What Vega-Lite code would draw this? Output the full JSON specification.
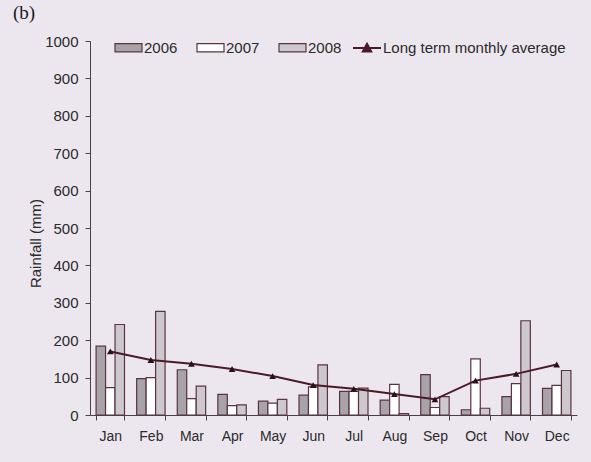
{
  "$schema": "https://vega.github.io/schema/vega-lite/v6.json",
  "width": 487,
  "height": 374,
  "autosize": {"type": "none"},
  "padding": {"left": 90, "top": 41, "right": 14, "bottom": 47},
  "background": "#ece7ee",
  "title": {
    "text": "(b)",
    "anchor": "start",
    "frame": "group",
    "font": "Liberation Serif",
    "fontSize": 19,
    "fontWeight": "normal",
    "color": "#1a1a1a",
    "baseline": "alphabetic",
    "dx": -77,
    "dy": 22,
    "offset": 17
  },
  "config": {
    "view": {"stroke": null},
    "font": "Liberation Sans",
    "axis": {
      "grid": false,
      "domainColor": "#4a4048",
      "tickColor": "#4a4048",
      "labelColor": "#2a2a2a",
      "titleColor": "#2a2a2a",
      "labelFont": "Liberation Sans",
      "titleFont": "Liberation Sans"
    },
    "axisY": {
      "values": [0,100,200,300,400,500,600,700,800,900,1000],
      "format": "d",
      "labelOverlap": false,
      "tickSize": 5,
      "labelFontSize": 15,
      "labelPadding": 7,
      "titleFontSize": 15,
      "titleFontWeight": "normal",
      "titlePadding": 1,
      "titleY": 202
    },
    "legend": {"labelFont": "Liberation Sans"}
  },
  "datasets": {
    "rain": [
      {"month": "Jan", "year": "2006", "rain": 184},
      {"month": "Jan", "year": "2007", "rain": 73},
      {"month": "Jan", "year": "2008", "rain": 242},
      {"month": "Feb", "year": "2006", "rain": 97},
      {"month": "Feb", "year": "2007", "rain": 100},
      {"month": "Feb", "year": "2008", "rain": 277},
      {"month": "Mar", "year": "2006", "rain": 121},
      {"month": "Mar", "year": "2007", "rain": 44},
      {"month": "Mar", "year": "2008", "rain": 77},
      {"month": "Apr", "year": "2006", "rain": 55},
      {"month": "Apr", "year": "2007", "rain": 25},
      {"month": "Apr", "year": "2008", "rain": 27},
      {"month": "May", "year": "2006", "rain": 37},
      {"month": "May", "year": "2007", "rain": 32},
      {"month": "May", "year": "2008", "rain": 42},
      {"month": "Jun", "year": "2006", "rain": 53},
      {"month": "Jun", "year": "2007", "rain": 75},
      {"month": "Jun", "year": "2008", "rain": 134},
      {"month": "Jul", "year": "2006", "rain": 63},
      {"month": "Jul", "year": "2007", "rain": 63},
      {"month": "Jul", "year": "2008", "rain": 72},
      {"month": "Aug", "year": "2006", "rain": 40},
      {"month": "Aug", "year": "2007", "rain": 82},
      {"month": "Aug", "year": "2008", "rain": 4},
      {"month": "Sep", "year": "2006", "rain": 108},
      {"month": "Sep", "year": "2007", "rain": 20},
      {"month": "Sep", "year": "2008", "rain": 49},
      {"month": "Oct", "year": "2006", "rain": 14},
      {"month": "Oct", "year": "2007", "rain": 150},
      {"month": "Oct", "year": "2008", "rain": 18},
      {"month": "Nov", "year": "2006", "rain": 49},
      {"month": "Nov", "year": "2007", "rain": 84},
      {"month": "Nov", "year": "2008", "rain": 252},
      {"month": "Dec", "year": "2006", "rain": 71},
      {"month": "Dec", "year": "2007", "rain": 79},
      {"month": "Dec", "year": "2008", "rain": 119}
    ],
    "avg": [
      {"month": "Jan", "avg": 170},
      {"month": "Feb", "avg": 147},
      {"month": "Mar", "avg": 137},
      {"month": "Apr", "avg": 123},
      {"month": "May", "avg": 104},
      {"month": "Jun", "avg": 80},
      {"month": "Jul", "avg": 70},
      {"month": "Aug", "avg": 56},
      {"month": "Sep", "avg": 42},
      {"month": "Oct", "avg": 92},
      {"month": "Nov", "avg": 110},
      {"month": "Dec", "avg": 135}
    ]
  },
  "encoding": {
    "x": {
      "field": "month",
      "type": "nominal",
      "sort": ["Jan","Feb","Mar","Apr","May","Jun","Jul","Aug","Sep","Oct","Nov","Dec"],
      "scale": {"paddingInner": 0.3, "paddingOuter": 0.15},
      "axis": {
        "title": null,
        "labelAngle": 0,
        "tickBand": "extent",
        "tickSize": 5,
        "labelFontSize": 14,
        "labelPadding": 9
      }
    }
  },
  "layer": [
    {
      "data": {"name": "rain"},
      "mark": {"type": "bar", "stroke": "#5a3440", "strokeWidth": 1.2},
      "encoding": {
        "xOffset": {"field": "year", "type": "nominal"},
        "y": {
          "field": "rain",
          "type": "quantitative",
          "scale": {"domain": [0, 1000]},
          "title": "Rainfall (mm)"
        },
        "fill": {
          "field": "year",
          "type": "nominal",
          "scale": {"domain": ["2006","2007","2008"], "range": ["#a7a3a9", "#ffffff", "#cdc8cd"]},
          "legend": {
            "orient": "none",
            "legendX": 24,
            "legendY": -8,
            "direction": "horizontal",
            "title": null,
            "symbolType": "M-1,-0.3H1V0.3H-1Z",
            "symbolSize": 729,
            "symbolStrokeColor": "#5a3440",
            "symbolStrokeWidth": 1.2,
            "labelFontSize": 15,
            "labelColor": "#2a2a2a",
            "labelOffset": 1,
            "columnPadding": 16
          }
        }
      }
    },
    {
      "data": {"name": "avg"},
      "mark": {"type": "line", "strokeWidth": 2},
      "encoding": {
        "y": {"field": "avg", "type": "quantitative", "title": "Rainfall (mm)"},
        "stroke": {
          "datum": "Long term monthly average",
          "scale": {"range": ["#4a1a28"]},
          "legend": {
            "orient": "none",
            "legendX": 262,
            "legendY": -8,
            "title": null,
            "symbolType": "M-1,0H1M-0.3,0.25L0,-0.3L0.3,0.25Z",
            "symbolSize": 784,
            "symbolStrokeWidth": 2,
            "symbolFillColor": "#4a1a28",
            "labelFontSize": 15,
            "labelLimit": 300,
            "labelColor": "#2a2a2a",
            "labelOffset": 1
          }
        }
      }
    },
    {
      "data": {"name": "avg"},
      "mark": {"type": "point", "shape": "triangle-up", "filled": true, "size": 45, "color": "#2a1018", "opacity": 1},
      "encoding": {
        "y": {"field": "avg", "type": "quantitative", "title": "Rainfall (mm)"}
      }
    }
  ]
}
